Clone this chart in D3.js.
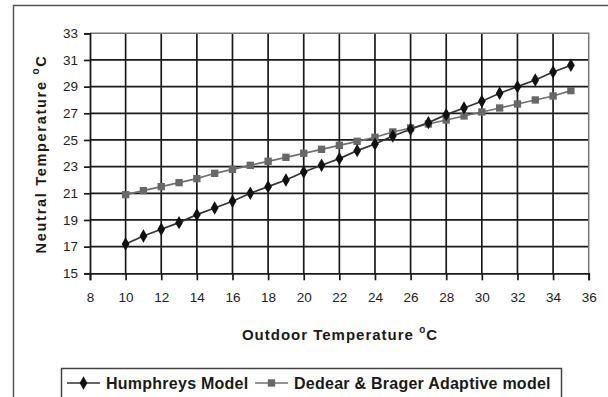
<!DOCTYPE html>
<html>
<head>
<meta charset="utf-8">
<script src="https://cdn.jsdelivr.net/npm/d3@7"></script>
<style>
  body { margin: 0; background: #fff; }
  svg { display: block; font-family: Arial, "Liberation Sans", sans-serif; }
</style>
</head>
<body>
<svg id="chart" width="608" height="397"></svg>
<script>
// data
const outdoorTemps = [10, 11, 12, 13, 14, 15, 16, 17, 18, 19, 20, 21, 22, 23, 24, 25, 26, 27, 28, 29, 30, 31, 32, 33, 34, 35];
const humphreys = [17.2, 17.8, 18.3, 18.8, 19.4, 19.9, 20.4, 21.0, 21.5, 22.0, 22.6, 23.1, 23.6, 24.2, 24.7, 25.3, 25.8, 26.3, 26.9, 27.4, 27.9, 28.5, 29.0, 29.5, 30.1, 30.6];
const dedear = [20.9, 21.2, 21.5, 21.8, 22.1, 22.5, 22.8, 23.1, 23.4, 23.7, 24.0, 24.3, 24.6, 24.9, 25.2, 25.6, 25.9, 26.2, 26.5, 26.8, 27.1, 27.4, 27.7, 28.0, 28.3, 28.7];
const xTicks = [8, 10, 12, 14, 16, 18, 20, 22, 24, 26, 28, 30, 32, 34, 36];
const yTicks = [15, 17, 19, 21, 23, 25, 27, 29, 31, 33];
const seriesNames = ["Humphreys Model", "Dedear & Brager Adaptive model"];

const svg = d3.select('#chart');
const plot = { left: 90, right: 588.7, top: 33.3, bottom: 273.3 };

// outer frame (right side runs off the picture)
svg.append('path')
    .attr('d', `M620,5.5 H13.5 V400`)
    .attr('fill', 'none')
    .attr('stroke', '#555')
    .attr('stroke-width', 1.5);

const x = d3.scaleLinear().domain([8, 36]).range([plot.left, plot.right]);
const y = d3.scaleLinear().domain([15, 33]).range([plot.bottom, plot.top]);

// gridlines
const grid = svg.append('g').attr('stroke', '#1a1a1a').attr('stroke-width', 1.7);
grid.selectAll('.v').data(xTicks.slice(1, -1)).join('line')
    .attr('x1', d => x(d)).attr('x2', d => x(d))
    .attr('y1', plot.top).attr('y2', plot.bottom);
grid.selectAll('.h').data(yTicks.slice(1, -1)).join('line')
    .attr('x1', plot.left).attr('x2', plot.right)
    .attr('y1', d => y(d)).attr('y2', d => y(d));

// plot border top/right (grey)
svg.append('path')
    .attr('d', `M${plot.left},${plot.top} H${plot.right} V${plot.bottom}`)
    .attr('fill', 'none').attr('stroke', '#777').attr('stroke-width', 1.5);

// axes
const xAxis = svg.append('g')
    .attr('transform', `translate(0,${plot.bottom})`)
    .call(d3.axisBottom(x).tickValues(xTicks).tickSize(7).tickPadding(12));
const yAxis = svg.append('g')
    .attr('transform', `translate(${plot.left},0)`)
    .call(d3.axisLeft(y).tickValues(yTicks).tickSize(6).tickPadding(6));

[xAxis, yAxis].forEach(ax => {
    ax.select('.domain').attr('stroke', '#1a1a1a').attr('stroke-width', 1.8);
    ax.selectAll('.tick line').attr('stroke', '#1a1a1a').attr('stroke-width', 1.7);
    ax.selectAll('.tick text')
        .attr('fill', '#222')
        .style('font-size', '13.5px')
        .style('font-family', 'Arial, "Liberation Sans", sans-serif');
});

// series
const humData = outdoorTemps.map((t, i) => ({ t, v: humphreys[i] }));
const ddbData = outdoorTemps.map((t, i) => ({ t, v: dedear[i] }));
const line = d3.line().x(d => x(d.t)).y(d => y(d.v));

svg.append('path').datum(ddbData)
    .attr('d', line).attr('fill', 'none')
    .attr('stroke', '#707070').attr('stroke-width', 1.7);
svg.append('path').datum(humData)
    .attr('d', line).attr('fill', 'none')
    .attr('stroke', '#333').attr('stroke-width', 1.7);

const square = d3.symbol().type(d3.symbolSquare).size(54);
const diamond = d3.symbol().type(d3.symbolDiamond).size(52);

svg.append('g').selectAll('path').data(ddbData).join('path')
    .attr('d', square)
    .attr('transform', d => `translate(${x(d.t)},${y(d.v)})`)
    .attr('fill', '#686868');
svg.append('g').selectAll('path').data(humData).join('path')
    .attr('d', diamond)
    .attr('transform', d => `translate(${x(d.t)},${y(d.v)})`)
    .attr('fill', '#111');

// axis titles
const xTitle = svg.append('text')
    .attr('x', 340).attr('y', 340)
    .attr('text-anchor', 'middle')
    .attr('fill', '#1a1a1a')
    .style('font-size', '15px').style('font-weight', 'bold')
    .style('letter-spacing', '1px');
xTitle.append('tspan').text('Outdoor Temperature ');
xTitle.append('tspan').text('o').attr('dy', -7).style('font-size', '10px');
xTitle.append('tspan').text('C').attr('dy', 7);

const yTitle = svg.append('text')
    .attr('transform', 'translate(46,154) rotate(-90)')
    .attr('text-anchor', 'middle')
    .attr('fill', '#1a1a1a')
    .style('font-size', '14.5px').style('font-weight', 'bold')
    .style('letter-spacing', '1.7px');
yTitle.append('tspan').text('Neutral Temperature ');
yTitle.append('tspan').text('o').attr('dy', -7).style('font-size', '10px');
yTitle.append('tspan').text('C').attr('dy', 7);

// legend
svg.append('rect')
    .attr('x', 61.5).attr('y', 368.5)
    .attr('width', 500).attr('height', 40)
    .attr('fill', '#fff').attr('stroke', '#444').attr('stroke-width', 1.5);

const legend = svg.append('g');
const legendItems = [
    { name: seriesNames[0], x0: 67, sym: diamond, color: '#111', lineColor: '#333' },
    { name: seriesNames[1], x0: 255, sym: square, color: '#686868', lineColor: '#707070' }
];
legendItems.forEach(it => {
    const g = legend.append('g').attr('transform', `translate(${it.x0},383)`);
    g.append('line').attr('x1', 0).attr('x2', 33).attr('stroke', it.lineColor).attr('stroke-width', 1.7);
    g.append('path').attr('d', it.sym).attr('transform', 'translate(16.5,0)').attr('fill', it.color);
    g.append('text').attr('x', 39).attr('y', 5.5)
        .attr('fill', '#1a1a1a')
        .style('font-size', '16px').style('font-weight', 'bold')
        .style('letter-spacing', '0.25px')
        .text(it.name);
});
</script>
</body>
</html>
